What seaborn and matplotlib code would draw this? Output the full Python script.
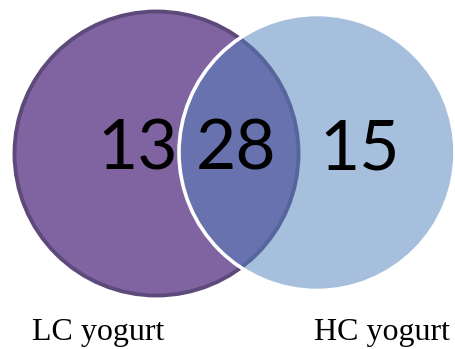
import matplotlib
matplotlib.use("Agg")
import matplotlib.pyplot as plt
from matplotlib.patches import Circle
import seaborn as sns

# set sizes (only-LC, both, only-HC) and set names
counts = [13, 28, 15]
set_names = ["LC yogurt", "HC yogurt"]

sns.set_theme(style="white")

fig = plt.figure(figsize=(4.55, 3.49), dpi=100)
ax = fig.add_axes([0, 0, 1, 1])
ax.set_xlim(0, 455)
ax.set_ylim(349, 0)
ax.set_aspect("equal")
ax.axis("off")

# circles (pixel-like data coords)
left = Circle((156.5, 153.5), 142, facecolor="#8064a2", edgecolor="#5e4a7a", linewidth=2.8, zorder=1)
right = Circle((317, 152.5), 138, facecolor=(79/255, 129/255, 189/255, 0.5),
               edgecolor="white", linewidth=2.6, zorder=2)
ax.add_patch(left)
ax.add_patch(right)

# region counts
for x, n in zip([138, 236, 360], counts):
    ax.text(x, 150, str(n), ha="center", va="center", fontsize=50,
            family="Lato", color="black", zorder=3)

# set labels
for x, name in zip([98, 382], set_names):
    ax.text(x, 340, name, ha="center", va="baseline", fontsize=23,
            family="Liberation Serif", color="black", zorder=3)

fig.savefig("out.png", dpi=100, facecolor="white")
